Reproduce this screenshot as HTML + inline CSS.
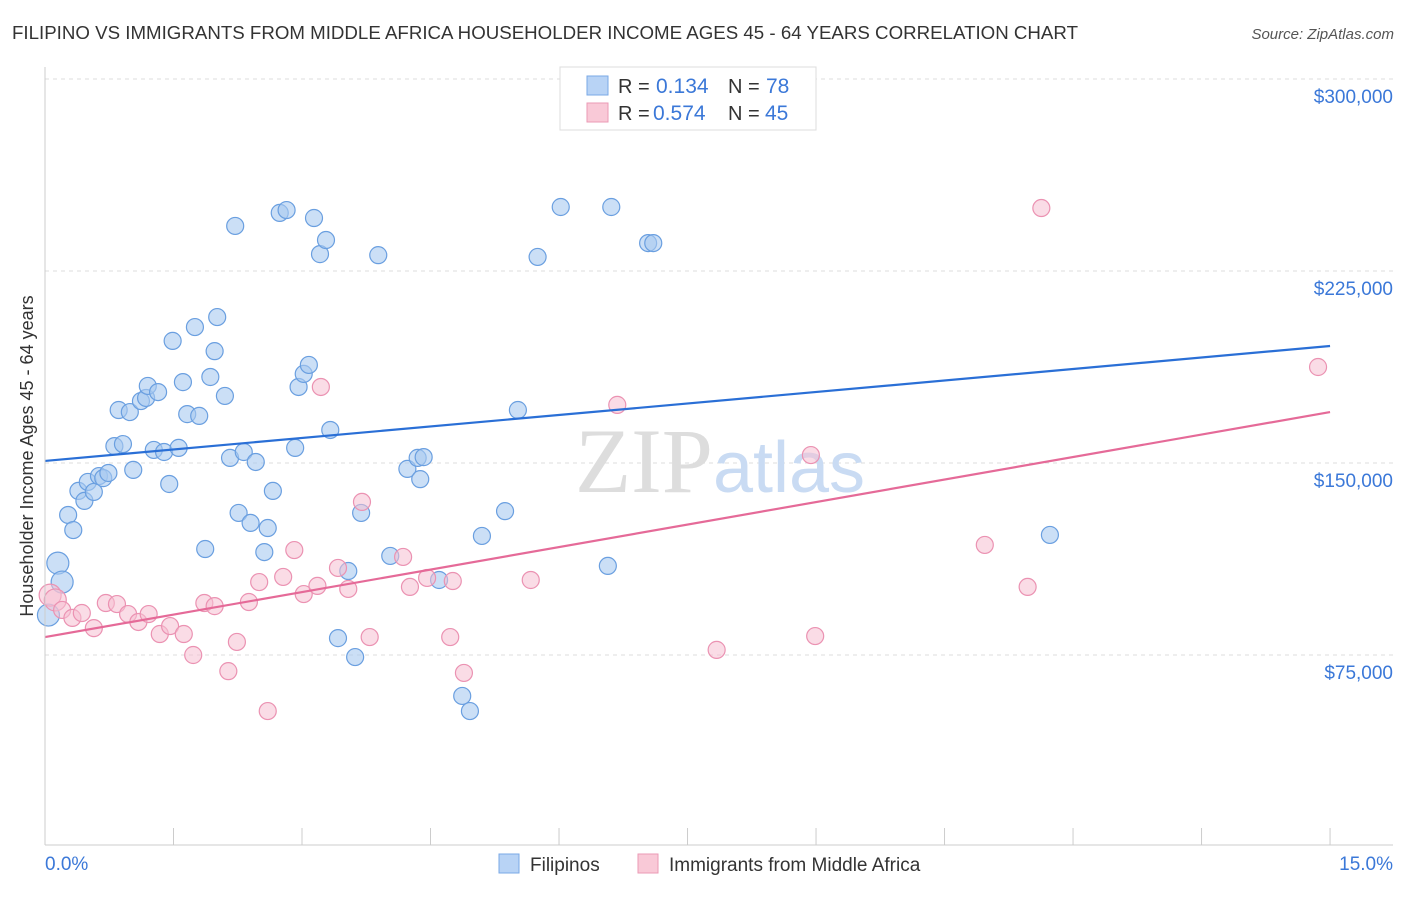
<!DOCTYPE html>
<html><head><meta charset="utf-8"><style>
body{margin:0;background:#fff;font-family:"Liberation Sans",sans-serif;}
</style></head><body>
<svg id="chart" width="1406" height="892" xmlns="http://www.w3.org/2000/svg" font-family="Liberation Sans, sans-serif">
<text x="12" y="39" font-size="18" fill="#333" textLength="1066" lengthAdjust="spacingAndGlyphs">FILIPINO VS IMMIGRANTS FROM MIDDLE AFRICA HOUSEHOLDER INCOME AGES 45 - 64 YEARS CORRELATION CHART</text>
<text x="1394" y="39" font-size="15" fill="#555" font-style="italic" text-anchor="end">Source: ZipAtlas.com</text>
<g id="grid"></g>
<text x="720" y="492" text-anchor="middle" font-size="92" fill="#ddd" font-family="Liberation Serif, serif">ZIP<tspan fill="#c9dbf3" font-family="Liberation Sans, sans-serif" font-size="72">atlas</tspan></text>
<g id="pts"></g>
<g id="trends"></g>
<g id="axes"></g>
<text transform="translate(33,456) rotate(-90)" text-anchor="middle" font-size="18" fill="#333">Householder Income Ages 45 - 64 years</text>
<g>
<rect x="560" y="67" width="256" height="63" fill="#fff" stroke="#ddd"/>
<rect x="587" y="76" width="21" height="19" fill="#b8d3f5" stroke="#7aa8e6"/>
<text x="618" y="93" font-size="20" fill="#333">R =</text>
<text x="656" y="93" font-size="21" fill="#3b78d8">0.134</text>
<text x="728" y="93" font-size="20" fill="#333">N =</text>
<text x="766" y="93" font-size="21" fill="#3b78d8">78</text>
<rect x="587" y="103" width="21" height="19" fill="#f9c9d7" stroke="#eb9ab5"/>
<text x="618" y="120" font-size="20" fill="#333">R =</text>
<text x="653" y="120" font-size="21" fill="#3b78d8">0.574</text>
<text x="728" y="120" font-size="20" fill="#333">N =</text>
<text x="765" y="120" font-size="21" fill="#3b78d8">45</text>
</g>
<g>
<rect x="499" y="854" width="20" height="19" fill="#b8d3f5" stroke="#7aa8e6"/>
<text x="530" y="871" font-size="19" fill="#333">Filipinos</text>
<rect x="638" y="854" width="20" height="19" fill="#f9c9d7" stroke="#eb9ab5"/>
<text x="669" y="871" font-size="19" fill="#333">Immigrants from Middle Africa</text>
</g>
</svg>
<script>
const blueX=[0.04,0.15,0.20,0.27,0.33,0.39,0.46,0.50,0.57,0.63,0.68,0.74,0.81,0.91,0.86,0.99,1.03,1.12,1.18,1.20,1.27,1.32,1.39,1.45,1.49,1.56,1.61,1.66,1.75,1.80,1.87,1.93,1.98,2.01,2.10,2.16,2.22,2.26,2.32,2.40,2.46,2.56,2.60,2.66,2.74,2.82,2.92,2.96,3.02,3.08,3.14,3.21,3.28,3.33,3.42,3.54,3.62,3.69,3.89,4.03,4.23,4.35,4.42,4.38,4.60,4.87,4.96,5.10,5.37,5.52,5.75,6.02,6.57,6.61,7.04,7.10,11.73];
const blueY=[90.6,110.9,103.5,129.7,123.8,139.1,135.2,142.6,138.7,144.9,144.1,146.1,156.6,157.4,170.7,169.9,147.3,174.2,175.4,180.1,155.1,177.7,154.3,141.8,197.7,155.9,181.6,169.1,203.1,168.4,116.4,183.6,193.7,207.0,176.2,152.0,242.6,130.5,154.3,126.6,150.4,115.2,124.6,139.1,247.7,248.8,155.9,179.7,184.8,188.3,245.7,231.6,237.1,162.9,81.6,107.8,74.2,130.5,231.2,113.7,147.7,152,152.3,143.7,104.3,59,53.1,121.5,131.2,170.7,230.5,250,109.8,250,235.9,235.9,121.9];
const pinkX=[0.06,0.12,0.20,0.32,0.43,0.57,0.71,0.84,0.97,1.09,1.21,1.34,1.46,1.62,1.73,1.86,1.98,2.14,2.24,2.38,2.50,2.60,2.78,2.91,3.02,3.18,3.22,3.42,3.54,3.70,3.79,4.18,4.26,4.46,4.73,4.76,4.89,5.67,6.68,7.84,8.94,8.99,10.97,11.47,11.63,14.86];
const pinkY=[98.4,96.5,92.6,89.5,91.4,85.5,95.3,94.9,91,87.9,91,83.2,86.3,83.2,75,95.3,94.1,68.7,80.1,95.7,103.5,53.1,105.5,116,98.8,102,179.7,109,100.8,134.8,82,113.3,101.6,105.1,82,103.9,68,104.3,172.7,77,153.1,82.4,118,101.6,249.6,187.5];
const blueTrend=[150.8,195.7];
const pinkTrend=[82,169.9];
const yTicks=[75,150,225,300];
const yTickLabels=["$75,000","$150,000","$225,000","$300,000"];
const xTickVals=[0,1.5,3,4.5,6,7.5,9,10.5,12,13.5,15];
const NS="http://www.w3.org/2000/svg";
const sx=v=>45+v*85.67;
const sy=v=>79+(300-v)*192/75;
function mk(t,a,p){const e=document.createElementNS(NS,t);for(const k in a)e.setAttribute(k,a[k]);p.appendChild(e);return e;}
const grid=document.getElementById('grid'),axes=document.getElementById('axes'),pts=document.getElementById('pts'),tr=document.getElementById('trends');
yTicks.forEach((v,i)=>{
 const l=mk('line',{x1:45,x2:1393,y1:sy(v),y2:sy(v),stroke:'#ddd','stroke-dasharray':'4,4'},grid);
 
 
 const t=mk('text',{x:1393,y:sy(v)+24,'text-anchor':'end','font-size':19,fill:'#3b78d8'},axes);
 t.textContent=yTickLabels[i];
 
 
});
mk('line',{x1:45,x2:45,y1:67,y2:845,stroke:'#ccc'},axes);
mk('line',{x1:45,x2:1393,y1:845,y2:845,stroke:'#ccc'},axes);
xTickVals.forEach(v=>{const l=mk('line',{x1:sx(v),x2:sx(v),y1:828,y2:845,stroke:'#ccc'},axes);
 
 });
let t0=mk('text',{x:45,y:870,'font-size':19,fill:'#3b78d8'},axes);t0.textContent='0.0%';


let t1=mk('text',{x:1393,y:870,'font-size':19,fill:'#3b78d8','text-anchor':'end'},axes);t1.textContent='15.0%';


blueX.forEach((x,i)=>{const c=mk('circle',{cx:sx(x),cy:sy(blueY[i]),r:i<3?11:8.5,fill:'#a9c9f0','fill-opacity':0.6,stroke:'#6a9fe0','stroke-width':1.2},pts);
 
 });
pinkX.forEach((x,i)=>{const c=mk('circle',{cx:sx(x),cy:sy(pinkY[i]),r:i<2?11:8.5,fill:'#f6bfd1','fill-opacity':0.55,stroke:'#eb92b2','stroke-width':1.2},pts);
 
 });
const bl=mk('line',{x1:sx(0),y1:sy(blueTrend[0]),x2:sx(15),y2:sy(blueTrend[1]),stroke:'#2a6fd6','stroke-width':2.2},tr);


const pl=mk('line',{x1:sx(0),y1:sy(pinkTrend[0]),x2:sx(15),y2:sy(pinkTrend[1]),stroke:'#e56a98','stroke-width':2.2},tr);


</script>
</body></html>
